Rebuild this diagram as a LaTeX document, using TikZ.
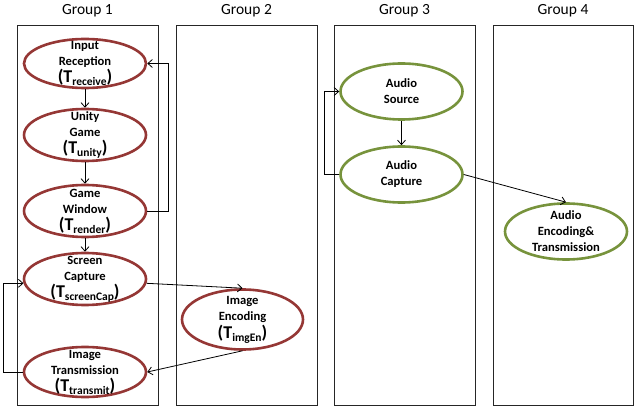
\documentclass[tikz,border=0pt]{standalone}
\usepackage{fontspec}
\setmainfont{Carlito}
\usetikzlibrary{shapes.geometric,arrows.meta}
\definecolor{redell}{RGB}{149,55,53}
\definecolor{greenell}{RGB}{119,147,60}
\newcommand{\tsub}[1]{{\fontsize{18}{18}\selectfont(T\raisebox{-3pt}{\fontsize{11.5}{11.5}\selectfont #1})}}
\tikzset{
  grpbox/.style={draw=black!85,line width=0.9pt},
  grptitle/.style={font=\fontsize{15.5}{17}\selectfont,anchor=center},
  ellr/.style={ellipse,draw=redell,line width=2.6pt,minimum width=122pt,inner sep=0pt},
  ellg/.style={ellipse,draw=greenell,line width=2.6pt,minimum width=122pt,minimum height=56pt,inner sep=0pt},
  txt/.style={align=center,font=\bfseries\fontsize{12.6}{16}\selectfont,inner sep=0pt},
  conn/.style={draw=black,line width=0.8pt,-{Straight Barb[length=4.5pt,width=8pt]}}
}
\begin{document}
\begin{tikzpicture}[x=1pt,y=-1pt]
\useasboundingbox (0,0) rectangle (644,411);
% group boxes
\draw[grpbox] (17,25) rectangle (158,405);
\draw[grpbox] (176,25) rectangle (317,405);
\draw[grpbox] (334,25) rectangle (475,405);
\draw[grpbox] (493,25) rectangle (633,405);
\node[grptitle] (g1) at (87.5,11) {Group 1};
\node[grptitle] (g2) at (246.5,11) {Group 2};
\node[grptitle] (g3) at (404.5,11) {Group 3};
\node[grptitle] (g4) at (563,11) {Group 4};
% group 1 ellipses
\node[ellr,minimum height=49pt] (ir) at (85,63.5) {};
\node[txt] (irt) at (ir) {Input\\Reception\\[1pt]\tsub{receive}};
\node[ellr,minimum height=52pt] (ug) at (85,135) {};
\node[txt] (ugt) at (ug) {Unity\\Game\\[1pt]\tsub{unity}};
\node[ellr,minimum height=52pt] (gw) at (85,211) {};
\node[txt] (gwt) at (gw) {Game\\Window\\[1pt]\tsub{render}};
\node[ellr,minimum height=52pt] (sc) at (85,279) {};
\node[txt] (sct) at (sc) {Screen\\Capture\\[1pt]\tsub{screenCap}};
\node[ellr,minimum height=50pt] (it) at (85,372) {};
\node[txt] (itt) at (it) {Image\\Transmission\\[1pt]\tsub{transmit}};
% group 2
\node[ellr,minimum width=121pt,minimum height=60pt] (ie) at (242.5,319.5) {};
\node[txt] (iet) at (ie) {Image\\Encoding\\[2pt]\tsub{imgEn}};
% group 3
\node[ellg] (as) at (401.5,91.5) {};
\node[txt] (ast) at (as) {Audio\\Source};
\node[ellg] (ac) at (401.5,174.5) {};
\node[txt] (act) at (ac) {Audio\\Capture};
% group 4
\node[ellg] (ae) at (566,231.5) {};
\node[txt] (aet) at (ae) {Audio\\Encoding\&\\Transmission};
% connectors
\draw[conn] (ir.south) -- (ug.north);
\draw[conn] (ug.south) -- (gw.north);
\draw[conn] (gw.south) -- (sc.north);
\draw[conn] (gw.east) -- ++(21,0) |- (ir.east);
\draw[conn] (sc.-4) -- (ie.north);
\draw[conn] (ie.south) -- (it.east);
\draw[conn] (it.west) -- ++(-19,0) |- (sc.184);
\draw[conn] (as.south) -- (ac.north);
\draw[conn] (ac.west) -- ++(-15,0) |- (as.west);
\draw[conn] (ac.east) -- (ae.north);
\end{tikzpicture}
\end{document}
